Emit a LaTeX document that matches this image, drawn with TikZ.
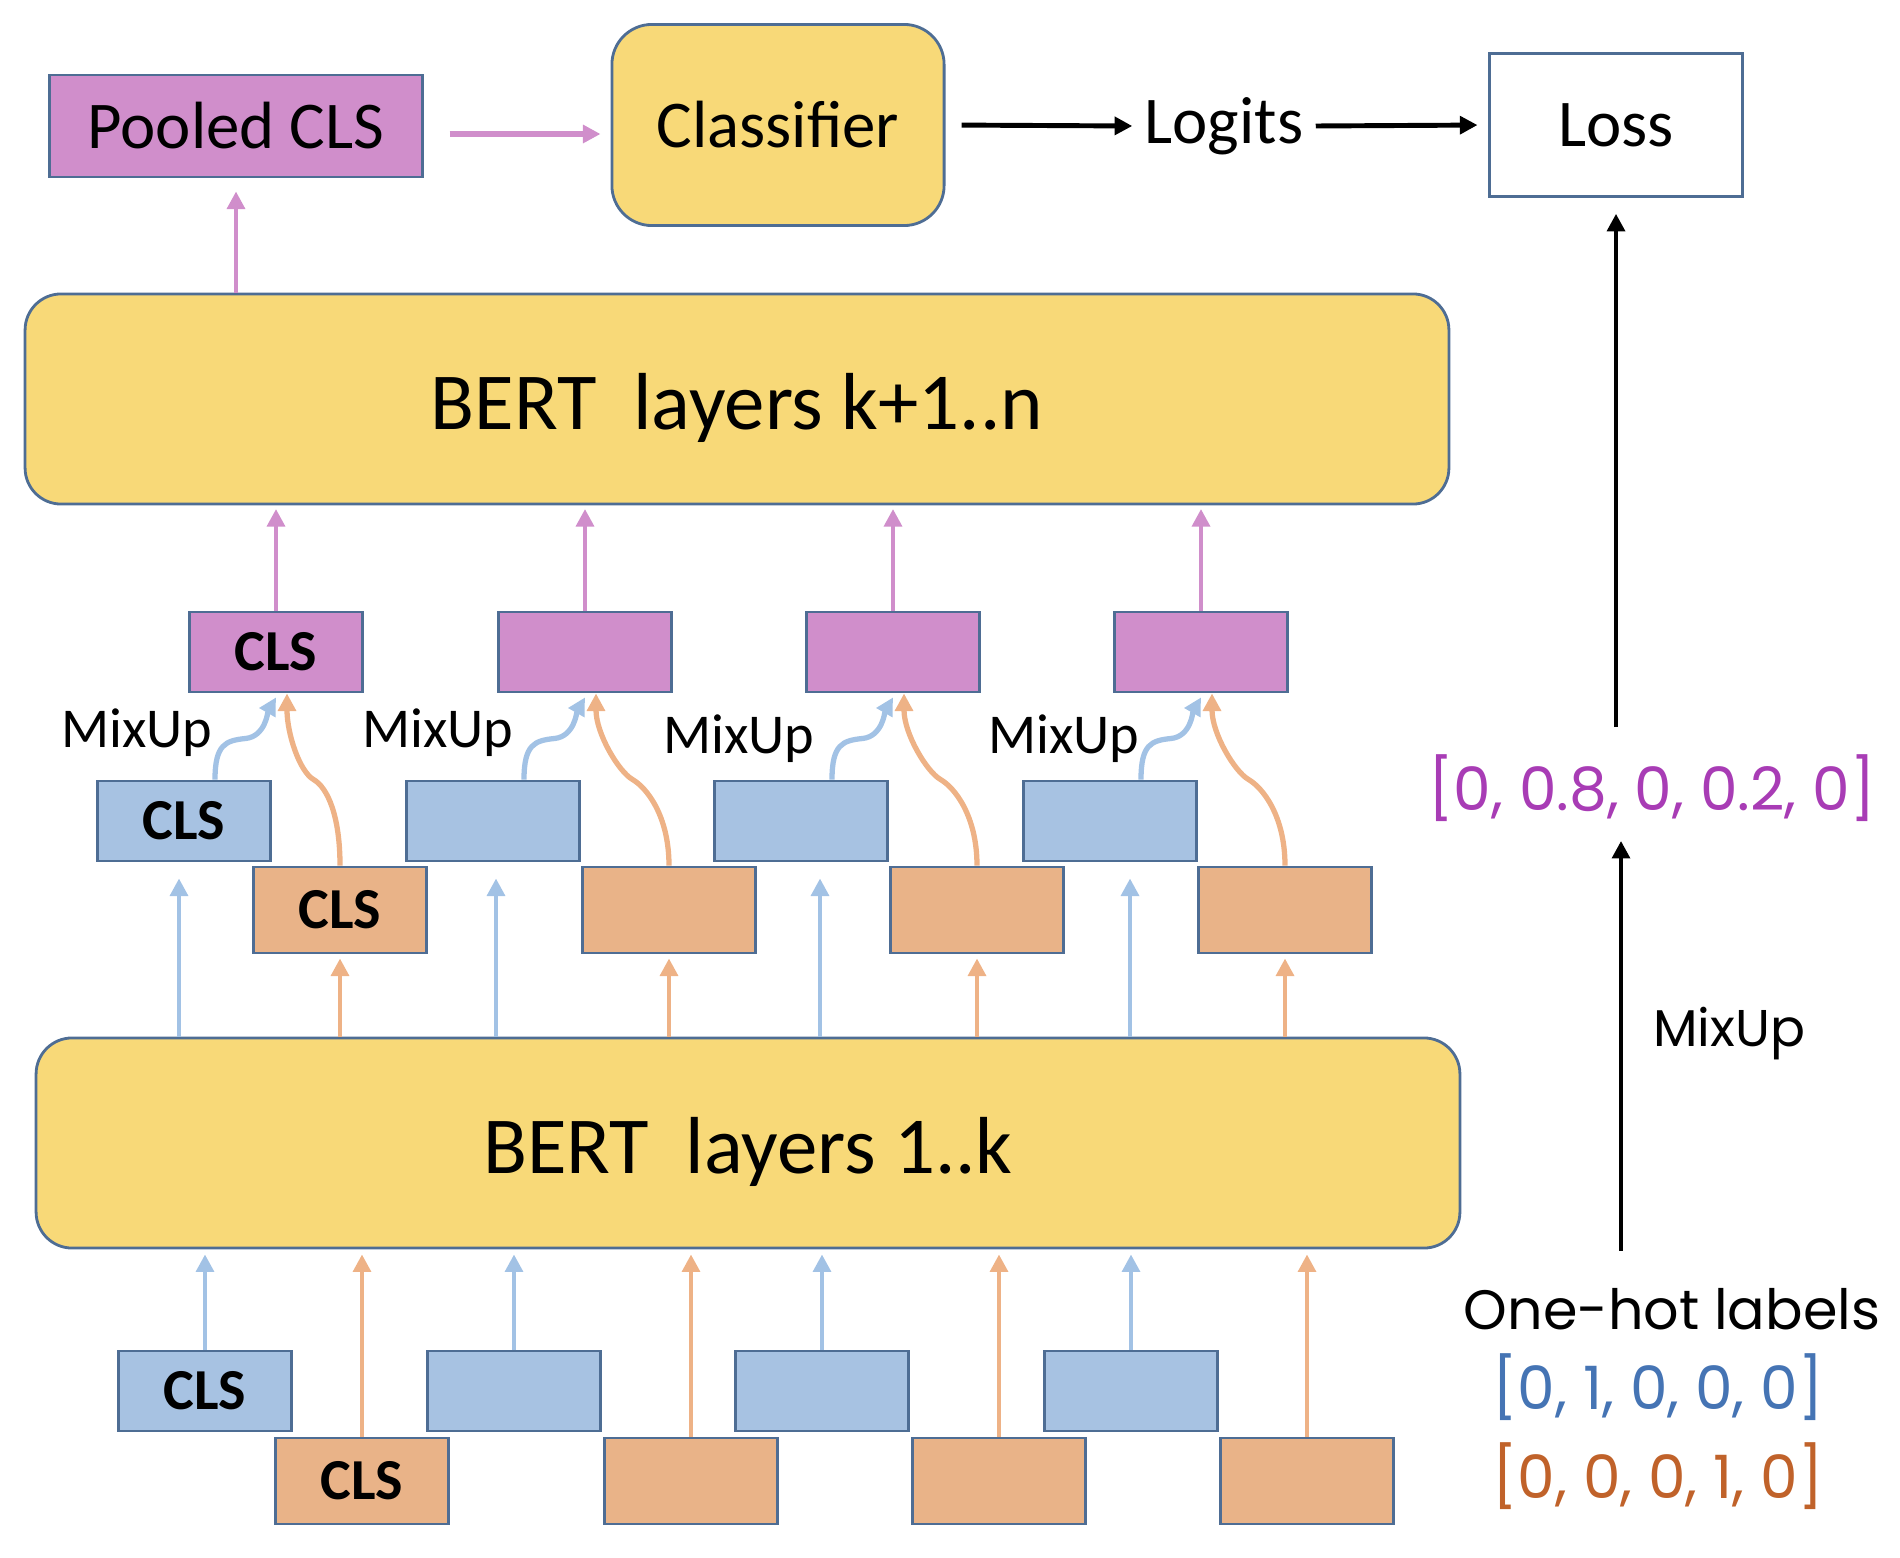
\documentclass[tikz,border=0pt]{standalone}
\usepackage{fontspec}
\setmainfont{Carlito}
\newfontfamily\gothicfont{Poppins}
\usetikzlibrary{arrows.meta, calc}
\definecolor{LayerYellow}{HTML}{F8D978}
\definecolor{BoxLine}{HTML}{4E6D94}
\definecolor{VecPurple}{HTML}{D08ECB}
\definecolor{VecBlue}{HTML}{A7C2E2}
\definecolor{VecOrange}{HTML}{E9B388}
\definecolor{ArrBlue}{HTML}{A2C2E5}
\definecolor{ArrOrange}{HTML}{EEB286}
\definecolor{TxtPurple}{HTML}{A83CB5}
\definecolor{TxtBlue}{HTML}{4574B4}
\definecolor{TxtOrange}{HTML}{C0622A}
\tikzset{
  layer/.style={draw=BoxLine, line width=0.8pt, fill=LayerYellow, rounded corners=0.36cm, minimum width=14.23cm, minimum height=2.1cm, text height=20pt, text depth=2.6pt, font=\fontsize{23}{27}\selectfont},
  vec/.style={draw=BoxLine, line width=0.8pt, minimum width=1.73cm, minimum height=0.8cm, inner sep=0pt, font=\bfseries\fontsize{16.5}{20}\selectfont},
  purplevec/.style={vec, fill=VecPurple},
  bluevec/.style={vec, fill=VecBlue},
  orangevec/.style={vec, fill=VecOrange, minimum height=0.86cm},
  plain/.style={font=\fontsize{19}{23}\selectfont},
  mixfont/.style={font=\fontsize{16}{19}\selectfont},
  gothic/.style={font=\gothicfont\fontsize{17}{21}\selectfont},
  arrow/.style={-{Triangle[length=5pt, width=5pt]}, line width=1.4pt},
  parrow/.style={-{Triangle[length=5pt, width=5pt]}, line width=1.3pt, draw=VecPurple},
  barrow/.style={-{Triangle[length=5pt, width=5pt]}, line width=1.3pt, draw=ArrBlue},
  oarrow/.style={-{Triangle[length=5pt, width=5pt]}, line width=1.3pt, draw=ArrOrange}
}

\begin{document}
\begin{tikzpicture}[x=0.01cm, y=-0.01cm]
\useasboundingbox (0,0) rectangle (1900,1558);

% head of the model
\node[plain, draw=BoxLine, line width=0.8pt, fill=VecPurple, minimum width=3.72cm, minimum height=1.02cm] (pooled) at (236,126) {Pooled CLS};
\node[plain, draw=BoxLine, line width=0.8pt, fill=LayerYellow, rounded corners=0.4cm, minimum width=3.32cm, minimum height=2.01cm] (clf) at (778,125) {Classifier};
\node[plain] (logits) at (1224,126) {Logits};
\node[plain, draw=BoxLine, line width=0.8pt, fill=white, minimum width=2.53cm, minimum height=1.43cm] (loss) at (1616,125) {Loss};

\draw[parrow, line width=1.7pt] ($(pooled.east)+(26,8)$) -- ($(clf.west)+(-10,9)$);
\draw[arrow, shorten <=4.6pt] (clf.east) -- (logits.west);
\draw[arrow, shorten >=3pt] (logits.east) -- (loss.west);

% BERT stacks
\node[layer] (bertup) at (737,399) {BERT\ \ layers k+1..n};
\node[layer] (bertlow) at (748,1143) {BERT\ \ layers 1..k};
\draw[parrow, shorten >=3.7pt] (bertup.north -| pooled.south) -- (pooled.south);

% token vectors and mixup
\foreach \i/\xp/\xb/\xo/\db/\xl/\yl in {1/276/184/340/-5/137/733, 2/585/493/669/3/438/733, 3/893/801/977/19/739/739, 4/1201/1110/1285/20/1064/739}{
  \node[purplevec] (p\i) at (\xp,652) {\ifnum\i=1 CLS\fi};
  \node[bluevec] (bm\i) at (\xb,821) {\ifnum\i=1 CLS\fi};
  \node[orangevec] (om\i) at (\xo,910) {\ifnum\i=1 CLS\fi};
  \node[bluevec] (bb\i) at (\xb+21,1391) {\ifnum\i=1 CLS\fi};
  \node[orangevec] (ob\i) at (\xo+22,1481) {\ifnum\i=1 CLS\fi};
  \node[mixfont] (mix\i) at (\xl,\yl) {MixUp};
  \draw[parrow, shorten >=1pt] (p\i.north) -- (p\i.north |- bertup.south);
  \draw[barrow, shorten >=1.4pt] (bb\i.north) -- (bb\i.north |- bertlow.south);
  \draw[oarrow, shorten >=1.4pt] (ob\i.north) -- (ob\i.north |- bertlow.south);
  \draw[barrow] ($(bm\i.south |- bertlow.north)+(\db,0)$) -- ($(bm\i.south)+(\db,16)$);
  \draw[oarrow] (om\i.south |- bertlow.north) -- ($(om\i.south)+(0,4)$);
  \path ($(bm\i.north)+(31,0)$) coordinate (bs) ($(p\i.south)+(0,4)$) coordinate (be) ($(bs)!0.5!(be)$) coordinate (bc);
  \draw[barrow, line width=1.5pt] (bs) .. controls +(0,-35) and +(-20,2) .. (bc) .. controls +(20,-2) and +(-8,14) .. (be);
  \path (om\i.north) coordinate (os) ($(p\i.south)+(11,0)$) coordinate (oe) ($(os)!0.5!(oe)$) coordinate (oc);
  \draw[oarrow, line width=1.5pt] (os) .. controls +(0,-50) and +(14,8) .. (oc) .. controls +(-14,-8) and +(0,40) .. (oe);
}

% labels
\node[gothic, text=TxtPurple] (mixed) at (1652,788) {[0, 0.8, 0, 0.2, 0]};
\node[gothic, font=\gothicfont\fontsize{15.8}{19}\selectfont] (onehot) at (1672,1309) {One-hot labels};
\node[gothic, text=TxtBlue] (labblue) at (1658,1387) {[0, 1, 0, 0, 0]};
\node[gothic, text=TxtOrange] (laborange) at (1658,1476) {[0, 0, 0, 1, 0]};
\node[gothic, font=\gothicfont\fontsize{14.7}{18}\selectfont, anchor=west] (mixlab) at (1641,1034) {MixUp};
\draw[arrow, shorten >=4.5pt] ($(mixed.north -| loss.south)+(0,-15)$) -- (loss.south);
\draw[arrow] ($(onehot.north -| loss.south)+(5,-25)$) -- ($(mixed.south -| loss.south)+(5,7)$);
\end{tikzpicture}
\end{document}
